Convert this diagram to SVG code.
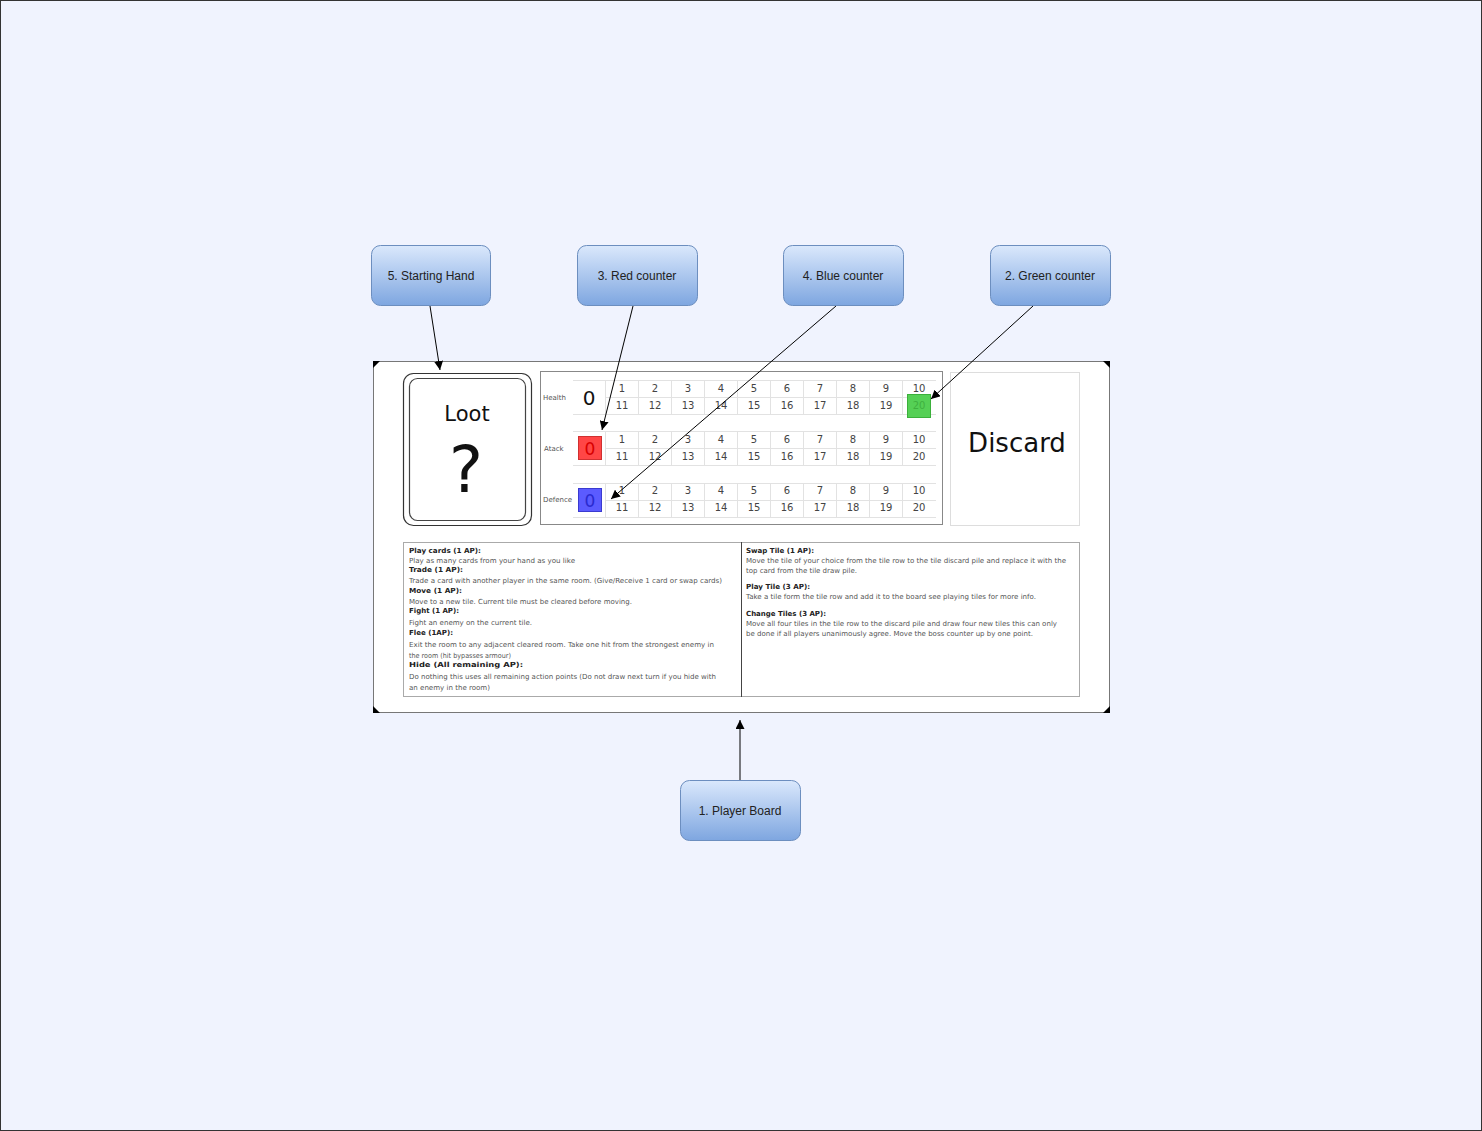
<svg xmlns="http://www.w3.org/2000/svg" width="1482" height="1131" viewBox="0 0 1482 1131">
<defs>
<linearGradient id="nodeGrad" x1="0" y1="0" x2="0" y2="1">
<stop offset="0" stop-color="#dae8fc"/>
<stop offset="1" stop-color="#7ea6e0"/>
</linearGradient>
<marker id="arr" viewBox="0 0 10 10" refX="10" refY="5" markerWidth="9" markerHeight="9" markerUnits="userSpaceOnUse" orient="auto">
<path d="M0,0 L10,5 L0,10 z" fill="#000"/>
</marker>
<style>
.node rect{fill:url(#nodeGrad);stroke:#6c8ebf;stroke-width:1}
.node text{font-family:"Liberation Sans",Arial,sans-serif;font-size:12px;fill:#222;text-anchor:middle}
.conn line{stroke:#000;stroke-width:1;marker-end:url(#arr)}
.num{font-family:"DejaVu Sans",Verdana,sans-serif;font-size:10px;fill:#444;text-anchor:middle}
.lbl{font-family:"DejaVu Sans",Verdana,sans-serif;font-size:7px;fill:#555}
.grid line{stroke:#e2e2e2;stroke-width:1}
.hd{font-family:"DejaVu Sans",Verdana,sans-serif;font-size:7px;font-weight:bold;fill:#222}
.tx{font-family:"DejaVu Sans",Verdana,sans-serif;font-size:7px;fill:#555}
</style>
</defs>
<rect x="0.5" y="0.5" width="1481" height="1130" fill="#f0f3fe" stroke="#333"/>

<g id="board">
<rect x="373.5" y="361.5" width="736" height="351" fill="#ffffff" stroke="#777"/>
<polygon points="373,361 380,361 373,368" fill="#000"/>
<polygon points="1103,361 1110,361 1110,368" fill="#000"/>
<polygon points="373,706 373,713 380,713" fill="#000"/>
<polygon points="1110,706 1110,713 1103,713" fill="#000"/>

<g id="loot-card">
<rect x="403.5" y="373.5" width="128" height="152" rx="10" fill="#fff" stroke="#333" stroke-width="1.2"/>
<rect x="409.5" y="378.5" width="116" height="142" rx="8" fill="#fff" stroke="#444" stroke-width="1.2"/>
<text x="467" y="421" font-family="DejaVu Sans,Verdana,sans-serif" font-size="21" text-anchor="middle" fill="#111">Loot</text>
<text x="466" y="492" font-family="DejaVu Sans,Verdana,sans-serif" font-size="64" text-anchor="middle" fill="#111">?</text>
</g>

<g id="tracker">
<rect x="540.5" y="371.5" width="402" height="153" fill="#fff" stroke="#888"/>
<g class="grid">
<line x1="573" y1="380.5" x2="936" y2="380.5"/><line x1="606" y1="397.5" x2="936" y2="397.5"/><line x1="573" y1="414.5" x2="936" y2="414.5"/>
<line x1="573" y1="431.5" x2="936" y2="431.5"/><line x1="606" y1="448.5" x2="936" y2="448.5"/><line x1="573" y1="465.5" x2="936" y2="465.5"/>
<line x1="573" y1="483.5" x2="936" y2="483.5"/><line x1="606" y1="500.5" x2="936" y2="500.5"/><line x1="573" y1="517.5" x2="936" y2="517.5"/>
<line x1="605.5" y1="380" x2="605.5" y2="415"/><line x1="638.5" y1="380" x2="638.5" y2="415"/><line x1="671.5" y1="380" x2="671.5" y2="415"/><line x1="704.5" y1="380" x2="704.5" y2="415"/><line x1="737.5" y1="380" x2="737.5" y2="415"/><line x1="770.5" y1="380" x2="770.5" y2="415"/><line x1="803.5" y1="380" x2="803.5" y2="415"/><line x1="836.5" y1="380" x2="836.5" y2="415"/><line x1="869.5" y1="380" x2="869.5" y2="415"/><line x1="902.5" y1="380" x2="902.5" y2="415"/>
<line x1="605.5" y1="431" x2="605.5" y2="466"/><line x1="638.5" y1="431" x2="638.5" y2="466"/><line x1="671.5" y1="431" x2="671.5" y2="466"/><line x1="704.5" y1="431" x2="704.5" y2="466"/><line x1="737.5" y1="431" x2="737.5" y2="466"/><line x1="770.5" y1="431" x2="770.5" y2="466"/><line x1="803.5" y1="431" x2="803.5" y2="466"/><line x1="836.5" y1="431" x2="836.5" y2="466"/><line x1="869.5" y1="431" x2="869.5" y2="466"/><line x1="902.5" y1="431" x2="902.5" y2="466"/>
<line x1="605.5" y1="483" x2="605.5" y2="518"/><line x1="638.5" y1="483" x2="638.5" y2="518"/><line x1="671.5" y1="483" x2="671.5" y2="518"/><line x1="704.5" y1="483" x2="704.5" y2="518"/><line x1="737.5" y1="483" x2="737.5" y2="518"/><line x1="770.5" y1="483" x2="770.5" y2="518"/><line x1="803.5" y1="483" x2="803.5" y2="518"/><line x1="836.5" y1="483" x2="836.5" y2="518"/><line x1="869.5" y1="483" x2="869.5" y2="518"/><line x1="902.5" y1="483" x2="902.5" y2="518"/>
</g>
<text class="lbl" x="543" y="400">Health</text>
<text class="lbl" x="544" y="451">Atack</text>
<text class="lbl" x="543" y="502">Defence</text>
<text x="589" y="405" font-family="DejaVu Sans,Verdana,sans-serif" font-size="20" text-anchor="middle" fill="#111">0</text>
<rect x="578.5" y="436.5" width="23" height="23" fill="#ff4646" stroke="#d03030"/>
<text x="590" y="455" font-family="DejaVu Sans,Verdana,sans-serif" font-size="17" text-anchor="middle" fill="#d80000">0</text>
<rect x="578.5" y="488.5" width="23" height="23" fill="#5b5bff" stroke="#3a3ad0"/>
<text x="590" y="507" font-family="DejaVu Sans,Verdana,sans-serif" font-size="17" text-anchor="middle" fill="#2a2ad0">0</text>
<rect x="907.5" y="394.5" width="23" height="23" fill="#55d055" stroke="#3bb03b"/>

<g>
<text class="num" x="622" y="392">1</text><text class="num" x="655" y="392">2</text><text class="num" x="688" y="392">3</text><text class="num" x="721" y="392">4</text><text class="num" x="754" y="392">5</text><text class="num" x="787" y="392">6</text><text class="num" x="820" y="392">7</text><text class="num" x="853" y="392">8</text><text class="num" x="886" y="392">9</text><text class="num" x="919" y="392">10</text>
<text class="num" x="622" y="409">11</text><text class="num" x="655" y="409">12</text><text class="num" x="688" y="409">13</text><text class="num" x="721" y="409">14</text><text class="num" x="754" y="409">15</text><text class="num" x="787" y="409">16</text><text class="num" x="820" y="409">17</text><text class="num" x="853" y="409">18</text><text class="num" x="886" y="409">19</text><text class="num" x="919" y="409" style="fill:#3fb03f">20</text>
<text class="num" x="622" y="443">1</text><text class="num" x="655" y="443">2</text><text class="num" x="688" y="443">3</text><text class="num" x="721" y="443">4</text><text class="num" x="754" y="443">5</text><text class="num" x="787" y="443">6</text><text class="num" x="820" y="443">7</text><text class="num" x="853" y="443">8</text><text class="num" x="886" y="443">9</text><text class="num" x="919" y="443">10</text>
<text class="num" x="622" y="460">11</text><text class="num" x="655" y="460">12</text><text class="num" x="688" y="460">13</text><text class="num" x="721" y="460">14</text><text class="num" x="754" y="460">15</text><text class="num" x="787" y="460">16</text><text class="num" x="820" y="460">17</text><text class="num" x="853" y="460">18</text><text class="num" x="886" y="460">19</text><text class="num" x="919" y="460">20</text>
<text class="num" x="622" y="494">1</text><text class="num" x="655" y="494">2</text><text class="num" x="688" y="494">3</text><text class="num" x="721" y="494">4</text><text class="num" x="754" y="494">5</text><text class="num" x="787" y="494">6</text><text class="num" x="820" y="494">7</text><text class="num" x="853" y="494">8</text><text class="num" x="886" y="494">9</text><text class="num" x="919" y="494">10</text>
<text class="num" x="622" y="511">11</text><text class="num" x="655" y="511">12</text><text class="num" x="688" y="511">13</text><text class="num" x="721" y="511">14</text><text class="num" x="754" y="511">15</text><text class="num" x="787" y="511">16</text><text class="num" x="820" y="511">17</text><text class="num" x="853" y="511">18</text><text class="num" x="886" y="511">19</text><text class="num" x="919" y="511">20</text>
</g>
</g>

<g id="discard">
<rect x="950.5" y="372.5" width="129" height="153" fill="#fff" stroke="#ddd"/>
<text x="1017" y="452" font-family="DejaVu Sans,Verdana,sans-serif" font-size="26" text-anchor="middle" fill="#111">Discard</text>
</g>

<g id="actions">
<rect x="403.5" y="542.5" width="676" height="154" fill="#fff" stroke="#aaa"/>
<line x1="741.5" y1="542" x2="741.5" y2="697" stroke="#444"/>
<text class="hd" x="409" y="553" textLength="72" lengthAdjust="spacingAndGlyphs">Play cards (1 AP):</text>
<text class="tx" x="409" y="563" textLength="166" lengthAdjust="spacingAndGlyphs">Play as many cards from your hand as you like</text>
<text class="hd" x="409" y="572" textLength="54" lengthAdjust="spacingAndGlyphs">Trade (1 AP):</text>
<text class="tx" x="409" y="583" textLength="313" lengthAdjust="spacingAndGlyphs">Trade a card with another player in the same room. (Give/Receive 1 card or swap cards)</text>
<text class="hd" x="409" y="593" textLength="53" lengthAdjust="spacingAndGlyphs">Move (1 AP):</text>
<text class="tx" x="409" y="604" textLength="223" lengthAdjust="spacingAndGlyphs">Move to a new tile. Current tile must be cleared before moving.</text>
<text class="hd" x="409" y="613" textLength="50" lengthAdjust="spacingAndGlyphs">Fight (1 AP):</text>
<text class="tx" x="409" y="625" textLength="123" lengthAdjust="spacingAndGlyphs">Fight an enemy on the current tile.</text>
<text class="hd" x="409" y="635" textLength="44" lengthAdjust="spacingAndGlyphs">Flee (1AP):</text>
<text class="tx" x="409" y="647" textLength="305" lengthAdjust="spacingAndGlyphs">Exit the room to any adjacent cleared room. Take one hit from the strongest enemy in</text>
<text class="tx" x="409" y="658" textLength="102" lengthAdjust="spacingAndGlyphs">the room (hit bypasses armour)</text>
<text class="hd" x="409" y="667" textLength="114" lengthAdjust="spacingAndGlyphs">Hide (All remaining AP):</text>
<text class="tx" x="409" y="679" textLength="307" lengthAdjust="spacingAndGlyphs">Do nothing this uses all remaining action points (Do not draw next turn if you hide with</text>
<text class="tx" x="409" y="690" textLength="81" lengthAdjust="spacingAndGlyphs">an enemy in the room)</text>

<text class="hd" x="746" y="553" textLength="68" lengthAdjust="spacingAndGlyphs">Swap Tile (1 AP):</text>
<text class="tx" x="746" y="563" textLength="320" lengthAdjust="spacingAndGlyphs">Move the tile of your choice from the tile row to the tile discard pile and replace it with the</text>
<text class="tx" x="746" y="573" textLength="111" lengthAdjust="spacingAndGlyphs">top card from the tile draw pile.</text>
<text class="hd" x="746" y="589" textLength="64" lengthAdjust="spacingAndGlyphs">Play Tile (3 AP):</text>
<text class="tx" x="746" y="599" textLength="290" lengthAdjust="spacingAndGlyphs">Take a tile form the tile row and add it to the board see playing tiles for more info.</text>
<text class="hd" x="746" y="616" textLength="80" lengthAdjust="spacingAndGlyphs">Change Tiles (3 AP):</text>
<text class="tx" x="746" y="626" textLength="311" lengthAdjust="spacingAndGlyphs">Move all four tiles in the tile row to the discard pile and draw four new tiles this can only</text>
<text class="tx" x="746" y="636" textLength="287" lengthAdjust="spacingAndGlyphs">be done if all players unanimously agree. Move the boss counter up by one point.</text>
</g>
</g>

<g id="connectors" class="conn">
<line x1="430" y1="306" x2="440" y2="370"/>
<line x1="633" y1="306" x2="602" y2="430"/>
<line x1="836" y1="306" x2="611" y2="499"/>
<line x1="1033" y1="306" x2="931" y2="399"/>
<line x1="740" y1="780" x2="740" y2="720"/>
</g>

<g id="n5" class="node"><rect x="371.5" y="245.5" width="119" height="60" rx="9"/><text x="431" y="280">5. Starting Hand</text></g>
<g id="n3" class="node"><rect x="577.5" y="245.5" width="120" height="60" rx="9"/><text x="637" y="280">3. Red counter</text></g>
<g id="n4" class="node"><rect x="783.5" y="245.5" width="120" height="60" rx="9"/><text x="843" y="280">4. Blue counter</text></g>
<g id="n2" class="node"><rect x="990.5" y="245.5" width="120" height="60" rx="9"/><text x="1050" y="280">2. Green counter</text></g>
<g id="n1" class="node"><rect x="680.5" y="780.5" width="120" height="60" rx="9"/><text x="740" y="815">1. Player Board</text></g>
</svg>
